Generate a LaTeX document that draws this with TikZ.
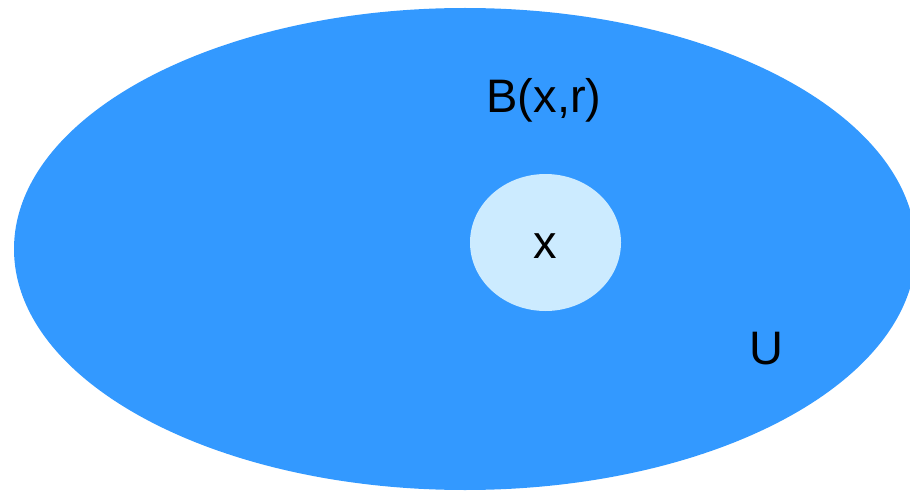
\documentclass[tikz,border=0pt]{standalone}
\usepackage{fontspec}
\setmainfont{Liberation Sans}
\definecolor{setblue}{HTML}{3399FF}
\definecolor{ballblue}{HTML}{CCEBFF}

\begin{document}
\begin{tikzpicture}[x=1pt,y=-1pt,
    lbl/.style={inner sep=0pt,font=\fontsize{47}{54}\selectfont}]
\useasboundingbox (0,0) rectangle (910,492);
\clip (0,0) rectangle (910,492);

% open set U and the ball around x
\fill[setblue] (465,249) ellipse [x radius=451, y radius=241];
\fill[ballblue] (545.5,242.5) ellipse [x radius=75.5, y radius=68.5];

\node[lbl] (ptx) at (545,246) {x};
\node[lbl] (ball) at (544,100) {B(x,r)};
\node[lbl] (setU) at (766,349) {U};
\end{tikzpicture}
\end{document}
